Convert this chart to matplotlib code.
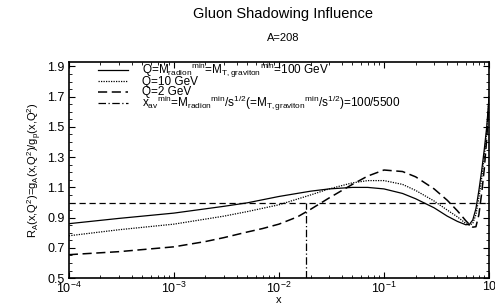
import matplotlib
matplotlib.use("Agg")
import matplotlib.pyplot as plt
from matplotlib.ticker import FixedLocator, MultipleLocator, LogLocator, NullFormatter

# x values (Bjorken x)
x_solid = [1e-4, 3e-4, 1e-3, 3e-3, 5e-3, 1e-2, 0.02, 0.03, 0.05, 0.07, 0.1, 0.15, 0.2,
           0.3, 0.4, 0.5, 0.6, 0.65, 0.7, 0.75, 0.8, 0.85, 0.9, 0.95, 1.0]
r_solid = [0.86, 0.895, 0.93, 0.975, 0.998, 1.04, 1.075, 1.09, 1.10, 1.10, 1.09, 1.06, 1.025,
           0.965, 0.91, 0.875, 0.853, 0.855, 0.885, 0.96, 1.08, 1.21, 1.35, 1.50, 1.70]

x_dot = [1e-4, 3e-4, 1e-3, 3e-3, 5e-3, 1e-2, 0.02, 0.03, 0.05, 0.07, 0.1, 0.15, 0.2,
         0.3, 0.4, 0.5, 0.6, 0.65, 0.7, 0.75, 0.8, 0.85, 0.9, 0.95, 1.0]
r_dot = [0.78, 0.82, 0.857, 0.91, 0.94, 0.985, 1.05, 1.09, 1.13, 1.145, 1.145, 1.12, 1.08,
         1.01, 0.95, 0.905, 0.862, 0.85, 0.862, 0.92, 1.03, 1.16, 1.30, 1.47, 1.70]

x_dash = [1e-4, 3e-4, 1e-3, 2e-3, 3e-3, 5e-3, 7e-3, 1e-2, 0.015, 0.02, 0.03, 0.05, 0.07, 0.1,
          0.15, 0.2, 0.3, 0.4, 0.5, 0.6, 0.65, 0.7, 0.75, 0.8, 0.85, 0.9, 0.95, 1.0]
r_dash = [0.655, 0.675, 0.707, 0.742, 0.768, 0.805, 0.828, 0.857, 0.905, 0.955, 1.03, 1.12,
          1.175, 1.215, 1.205, 1.17, 1.09, 1.015, 0.945, 0.88, 0.855, 0.837, 0.84, 0.92,
          1.06, 1.22, 1.42, 1.68]

x_av_min = 100 / 5500
ref_level = 1.0
y_ticks = [0.5, 0.7, 0.9, 1.1, 1.3, 1.5, 1.7, 1.9]
y_tick_labels = ["0.5", "0.7", "0.9", "1.1", "1.3", "1.5", "1.7", "1.9"]
x_ticks = [1e-4, 1e-3, 1e-2, 1e-1, 1.0]
x_tick_labels = [r"$10^{-4}$", r"$10^{-3}$", r"$10^{-2}$", r"$10^{-1}$", "10"]
legend_labels = [
    r"Q=M$_{\rm radion}$$^{\rm min}$=M$_{\rm T,graviton}$$^{\rm min}$=100 GeV",
    "Q=10 GeV",
    "Q=2 GeV",
    r"x$_{\rm av}$$^{\rm min}$=M$_{\rm radion}$$^{\rm min}$/s$^{1/2}$(=M$_{\rm T,graviton}$$^{\rm min}$/s$^{1/2}$)=100/5500",
]

plt.rcParams["font.family"] = ["Liberation Sans", "DejaVu Sans"]
plt.rcParams["mathtext.fontset"] = "custom"
plt.rcParams["mathtext.rm"] = "Liberation Sans"
plt.rcParams["mathtext.it"] = "Liberation Sans"

fig = plt.figure(figsize=(4.95, 3.08), dpi=100)
ax = fig.add_axes([0.139, 0.097, 0.849, 0.702])

lw = 0.9
styles = ["-", (0, (1, 1)), (0, (6, 3)), (0, (6, 2, 1, 2))]
widths = [lw, lw, lw + 0.2, lw]
ax.plot(x_solid, r_solid, color="black", lw=widths[0], ls=styles[0])
ax.plot(x_dot, r_dot, color="black", lw=widths[1], ls=styles[1])
ax.plot(x_dash, r_dash, color="black", lw=widths[2], ls=styles[2])
ax.plot([x_av_min, x_av_min], [0.5, ref_level], color="black", lw=widths[3], ls=styles[3])
ax.plot([1e-4, 1.0], [ref_level, ref_level], color="black", lw=lw, ls=(0, (5, 3)))

# legend drawn manually (axes-fraction coordinates)
row_y = [0.963, 0.912, 0.862, 0.810]
for yy, st, w, lab in zip(row_y, styles, widths, legend_labels):
    ax.plot([0.069, 0.142], [yy, yy], transform=ax.transAxes, color="black", lw=w, ls=st,
            clip_on=False)
    ax.text(0.174, yy - 0.017, lab, transform=ax.transAxes, fontsize=8.5, va="baseline",
            ha="left")

ax.set_xscale("log")
ax.set_xlim(1e-4, 1.0)
ax.set_ylim(0.5, 1.93)
ax.xaxis.set_major_locator(FixedLocator(x_ticks))
ax.set_xticklabels(x_tick_labels, fontsize=9)
ax.xaxis.set_minor_locator(LogLocator(base=10, subs=range(2, 10)))
ax.xaxis.set_minor_formatter(NullFormatter())
ax.yaxis.set_major_locator(FixedLocator(y_ticks))
ax.set_yticklabels(y_tick_labels, fontsize=9)
ax.yaxis.set_minor_locator(MultipleLocator(0.05))
ax.tick_params(which="both", direction="in", top=True, right=True)
ax.tick_params(which="major", length=4, width=0.8)
ax.tick_params(which="minor", length=2, width=0.6)
ax.tick_params(axis="x", pad=2)
ax.tick_params(axis="y", pad=3)
for s in ax.spines.values():
    s.set_linewidth(1.2)

ax.set_xlabel("x", fontsize=8, labelpad=-1)
ax.set_ylabel(r"R$_{\rm A}$(x,Q$^2$)=g$_{\rm A}$(x,Q$^2$)/g$_{\rm p}$(x,Q$^2$)", fontsize=8, labelpad=2)

fig.text(0.572, 0.955, "Gluon Shadowing Influence", ha="center", va="center", fontsize=10.5)
fig.text(0.572, 0.877, "A=208", ha="center", va="center", fontsize=8)

fig.savefig("out.png", dpi=100)
